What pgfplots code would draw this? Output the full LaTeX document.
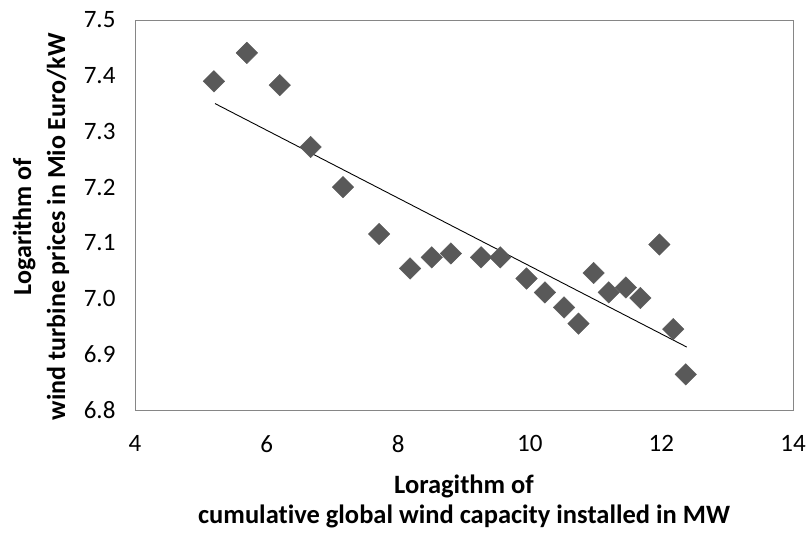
\documentclass[border=0pt]{standalone}
\usepackage{pgfplots}
\pgfplotsset{compat=1.18}
\usepackage{fontspec}
\setmainfont[Ligatures=NoCommon]{Carlito}
\definecolor{markgray}{HTML}{595959}
\definecolor{framegray}{HTML}{868686}
\begin{document}
\begin{tikzpicture}
\begin{axis}[
    at={(0,0)}, anchor=south west,
    scale only axis,
    width=658pt, height=390pt,
    xmin=4, xmax=14,
    ymin=6.8, ymax=7.5,
    xtick={4,6,8,10,12,14},
    ytick={6.8,6.9,7.0,7.1,7.2,7.3,7.4,7.5},
    yticklabel style={/pgf/number format/.cd, fixed, fixed zerofill, precision=1},
    /pgf/number format/assume math mode=true,
    major tick length=0pt,
    axis line style={framegray, line width=0.9pt},
    tick label style={font=\fontsize{25}{29}\selectfont, black},
    xticklabel shift=22pt,
    yticklabel shift=16pt,
    xlabel={Loragithm of\\cumulative global wind capacity installed in MW},
    ylabel={Logarithm of\\wind turbine prices in Mio Euro/kW},
    xlabel style={at={(axis description cs:0.5,-0.158)}, anchor=north,
        align=center, font=\bfseries\fontsize{26.5}{30}\selectfont},
    ylabel style={at={(axis description cs:-0.0945,0.47)}, anchor=south,
        rotate=0, align=center, font=\bfseries\fontsize{26}{34}\selectfont},
]
\addplot[only marks, mark=square*, mark size=7.6pt,
    mark options={rotate=45, fill=markgray, draw=markgray}]
coordinates {
    (5.20,7.390) (5.70,7.441) (6.20,7.383) (6.67,7.272) (7.16,7.200)
    (7.71,7.116) (8.18,7.054) (8.51,7.074) (8.80,7.081) (9.26,7.074)
    (9.55,7.074) (9.95,7.036) (10.23,7.011) (10.52,6.984) (10.74,6.955)
    (10.97,7.046) (11.20,7.011) (11.46,7.020) (11.68,7.001) (11.97,7.097)
    (12.18,6.945) (12.37,6.864)
};
\addplot[black, line width=0.9pt] coordinates {(5.216,7.350) (12.385,6.913)};
\end{axis}
\pgfresetboundingbox
\useasboundingbox (-135pt,-124pt) rectangle (671pt,410pt);
\end{tikzpicture}
\end{document}
